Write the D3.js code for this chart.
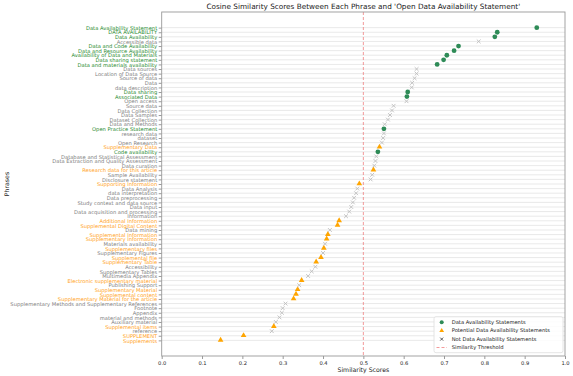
<!DOCTYPE html>
<html>
<head>
<meta charset="utf-8">
<script src="https://cdn.jsdelivr.net/npm/d3@7"></script>
<style>
  body { margin: 0; background: #fff; }
  svg { font-family: "DejaVu Sans", sans-serif; }
</style>
</head>
<body>
<div id="chart"></div>
<script>
// phrases, top to bottom
const phrases = [
  "Data Availability Statement", "DATA AVAILABILITY", "Data Availability", "Accessible data",
  "Data and Code Availability", "Data and Resource Availability", "Availability of Data and Materials",
  "Data sharing statement", "Data and materials availability", "Data sources", "Location of Data Source",
  "Source of data", "Data", "data description", "Data sharing", "Associated Data", "Open access",
  "Source data", "Data Collection", "Data Samples", "Dataset Collection", "Data and Methods",
  "Open Practice Statement", "research data", "dataset", "Open Research", "Supplementary Data",
  "Code availability", "Database and Statistical Assessment", "Data Extraction and Quality Assessment",
  "Data curation", "Research data for this article", "Sample Availability", "Disclosure statement",
  "Supporting Information", "Data Analysis", "data interpretation", "Data preprocessing",
  "Study context and data source", "Data input", "Data acquisition and processing", "Information",
  "Additional Information", "Supplemental Digital Content", "Data mining", "Supplemental Information",
  "Supplementary Information", "Materials availability", "Supplementary files", "Supplementary Figures",
  "Supplemental file", "Supplementary Table", "Accessibility", "Supplementary Tables",
  "Multimedia Appendix", "Electronic supplementary material", "Publishing Support",
  "Supplementary Material", "Supplemental content", "Supplementary Material for the article",
  "Supplementary Methods and Supplementary References", "Footnote", "Appendix", "material and methods",
  "Auxiliary material", "Supplemental items", "reference", "SUPPLEMENT", "Supplements"
];

const scores = [
  0.930, 0.832, 0.826, 0.786,
  0.736, 0.725, 0.707,
  0.699, 0.683, 0.632, 0.632,
  0.627, 0.621, 0.620, 0.610, 0.608, 0.607,
  0.575, 0.571, 0.566, 0.561, 0.553,
  0.551, 0.551, 0.549, 0.546, 0.540,
  0.536, 0.532, 0.530,
  0.527, 0.525, 0.522, 0.518,
  0.490, 0.485, 0.482, 0.477,
  0.474, 0.470, 0.465, 0.457,
  0.440, 0.436, 0.417, 0.412,
  0.409, 0.405, 0.402, 0.400,
  0.395, 0.383, 0.381, 0.372,
  0.363, 0.347, 0.341,
  0.337, 0.333, 0.327,
  0.307, 0.300, 0.298, 0.292,
  0.283, 0.278, 0.273, 0.203, 0.146
];

// D = data availability statement, P = potential, N = not
const kinds = [
  "D", "D", "D", "N",
  "D", "D", "D",
  "D", "D", "N", "N",
  "N", "N", "N", "D", "D", "N",
  "N", "N", "N", "N", "N",
  "D", "N", "N", "N", "P",
  "D", "N", "N",
  "N", "P", "N", "N",
  "P", "N", "N", "N",
  "N", "N", "N", "N",
  "P", "P", "N", "P",
  "P", "N", "P", "N",
  "P", "P", "N", "N",
  "N", "P", "N",
  "P", "P", "P",
  "N", "N", "N", "N",
  "N", "P", "N", "P", "P"
];

const xTicks = [0, 0.1, 0.2, 0.3, 0.4, 0.5, 0.6, 0.7, 0.8, 0.9, 1.0];
const threshold = 0.5;
const legendLabels = [
  "Data Availability Statements", "Potential Data Availability Statements",
  "Not Data Availability Statements", "Similarity Threshold"
];

const width = 573, height = 376;
const m = { left: 161.7, right: 565, top: 12, bottom: 356 };

const markColor = { D: "#2e8b57", P: "#ffa500", N: "#bdbdbd" };
const labelColor = { D: "#1f8a2e", P: "#ff9f1a", N: "#808080" };

const data = phrases.map((p, i) => ({ phrase: p, score: scores[i], kind: kinds[i] }));

const svg = d3.select("#chart").append("svg")
  .attr("width", width)
  .attr("height", height);

const x = d3.scaleLinear().domain([0, 1]).range([m.left, m.right]);
const y = d3.scalePoint().domain(phrases).range([m.top, m.bottom]).padding(3.4);

// horizontal grid
svg.append("g")
  .selectAll("line")
  .data(phrases)
  .enter().append("line")
  .attr("x1", m.left).attr("x2", m.right)
  .attr("y1", d => y(d)).attr("y2", d => y(d))
  .style("stroke", "#e3e3e3")
  .style("stroke-width", 0.8);

// threshold line
svg.append("line")
  .attr("x1", x(threshold)).attr("x2", x(threshold))
  .attr("y1", m.top).attr("y2", m.bottom)
  .style("stroke", "#f08080")
  .style("stroke-width", 0.8)
  .style("stroke-dasharray", "3,2");

// y axis
const yAxis = d3.axisLeft(y).tickSize(3).tickPadding(1.5);
const gy = svg.append("g")
  .attr("transform", "translate(" + m.left + ",0)")
  .call(yAxis);
gy.select(".domain").remove();
gy.selectAll(".tick line").style("stroke", "#555").style("stroke-width", 0.6);
gy.selectAll(".tick text")
  .style("font-size", "5.2px")
  .style("font-family", "DejaVu Sans")
  .attr("fill", d => labelColor[kinds[phrases.indexOf(d)]]);

// x axis
const xAxis = d3.axisBottom(x).tickValues(xTicks).tickFormat(d3.format(".1f")).tickSize(3).tickPadding(2);
const gx = svg.append("g")
  .attr("transform", "translate(0," + m.bottom + ")")
  .call(xAxis);
gx.select(".domain").remove();
gx.selectAll(".tick line").style("stroke", "#555").style("stroke-width", 0.6);
gx.selectAll(".tick text")
  .style("font-size", "5.2px")
  .style("font-family", "DejaVu Sans")
  .attr("fill", "#222");

// frame
svg.append("rect")
  .attr("x", m.left).attr("y", m.top)
  .attr("width", m.right - m.left).attr("height", m.bottom - m.top)
  .style("fill", "none")
  .style("stroke", "#999")
  .style("stroke-width", 0.9);

// marks
const tri = d3.symbol().type(d3.symbolTriangle).size(14);
const marks = svg.append("g");

marks.selectAll("circle")
  .data(data.filter(d => d.kind === "D"))
  .enter().append("circle")
  .attr("cx", d => x(d.score))
  .attr("cy", d => y(d.phrase))
  .attr("r", 2.4)
  .style("fill", markColor.D);

marks.selectAll("path.tri")
  .data(data.filter(d => d.kind === "P"))
  .enter().append("path")
  .attr("class", "tri")
  .attr("d", tri)
  .attr("transform", d => "translate(" + x(d.score) + "," + (y(d.phrase) - 0.3) + ")")
  .style("fill", markColor.P);

const cross = d => {
  const cx = x(d.score), cy = y(d.phrase), s = 1.9;
  return "M" + (cx - s) + "," + (cy - s) + "L" + (cx + s) + "," + (cy + s) +
    "M" + (cx - s) + "," + (cy + s) + "L" + (cx + s) + "," + (cy - s);
};
marks.selectAll("path.cross")
  .data(data.filter(d => d.kind === "N"))
  .enter().append("path")
  .attr("class", "cross")
  .attr("d", cross)
  .style("stroke", markColor.N)
  .style("stroke-width", 0.9)
  .style("fill", "none");

// titles
svg.append("text")
  .attr("x", (m.left + m.right) / 2).attr("y", 9)
  .attr("text-anchor", "middle")
  .style("font-size", "7.3px")
  .style("fill", "#222")
  .text("Cosine Similarity Scores Between Each Phrase and 'Open Data Availability Statement'");

svg.append("text")
  .attr("x", (m.left + m.right) / 2).attr("y", 371.5)
  .attr("text-anchor", "middle")
  .style("font-size", "6.2px")
  .style("fill", "#222")
  .text("Similarity Scores");

svg.append("text")
  .attr("transform", "translate(9," + (m.top + m.bottom) / 2 + ") rotate(-90)")
  .attr("text-anchor", "middle")
  .style("font-size", "6.2px")
  .style("fill", "#222")
  .text("Phrases");

// legend
const lg = svg.append("g").attr("transform", "translate(434,316.7)");
lg.append("rect")
  .attr("width", 129).attr("height", 36)
  .attr("rx", 2)
  .style("fill", "#fff")
  .style("fill-opacity", 0.85)
  .style("stroke", "#ddd")
  .style("stroke-width", 0.8);

const rowY = i => 5.6 + i * 8.4;
lg.append("circle").attr("cx", 7.7).attr("cy", rowY(0)).attr("r", 2).style("fill", markColor.D);
lg.append("path").attr("d", d3.symbol().type(d3.symbolTriangle).size(10))
  .attr("transform", "translate(7.7," + rowY(1) + ")").style("fill", markColor.P);
lg.append("path")
  .attr("d", "M6.2," + (rowY(2) - 1.5) + "L9.2," + (rowY(2) + 1.5) + "M6.2," + (rowY(2) + 1.5) + "L9.2," + (rowY(2) - 1.5))
  .style("stroke", "#333").style("stroke-width", 0.8);
lg.append("line")
  .attr("x1", 2.5).attr("x2", 13).attr("y1", rowY(3)).attr("y2", rowY(3))
  .style("stroke", "#f08080").style("stroke-width", 0.8).style("stroke-dasharray", "3,2");

lg.selectAll("text.lab")
  .data(legendLabels)
  .enter().append("text")
  .attr("class", "lab")
  .attr("x", 17.7)
  .attr("y", (d, i) => rowY(i) + 1.8)
  .style("font-size", "5.2px")
  .style("fill", "#222")
  .text(d => d);
</script>
</body>
</html>
